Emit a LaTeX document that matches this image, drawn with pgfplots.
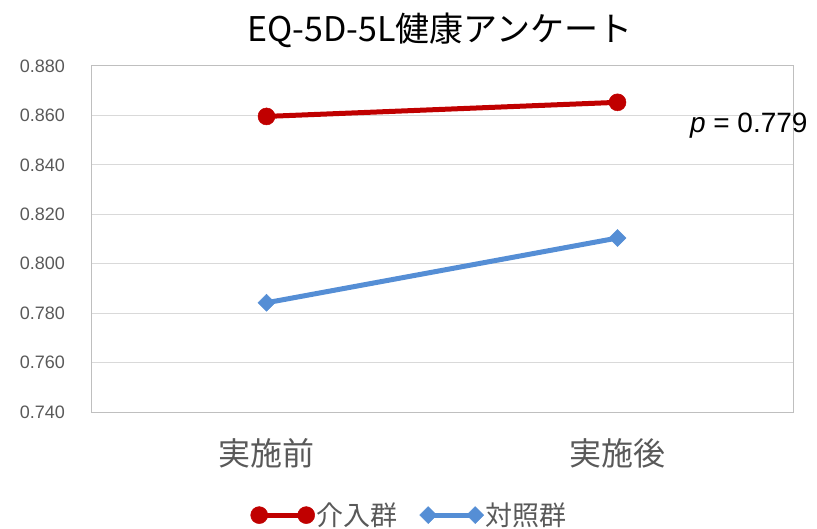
\documentclass[border=0pt]{standalone}
\usepackage{fontspec}
\setmainfont{Liberation Sans}
\newfontfamily\cjk{Noto Sans CJK JP}
\usepackage{pgfplots}
\pgfplotsset{compat=1.18}
\definecolor{redline}{RGB}{192,0,0}
\definecolor{blueline}{RGB}{85,142,213}
\definecolor{txtgray}{RGB}{89,89,89}
\definecolor{gridgray}{RGB}{217,217,217}
\definecolor{framegray}{RGB}{191,191,191}
\begin{document}
\begin{tikzpicture}[x=1pt,y=1pt]
\useasboundingbox (0,0) rectangle (817,528);
\node[font=\cjk\fontsize{34}{34}\selectfont, anchor=base, inner sep=0pt] at (440,486) {EQ-5D-5L健康アンケート};
\begin{axis}[
  at={(91pt,116pt)}, anchor=south west,
  scale only axis, width=702pt, height=346pt,
  xmin=-0.5, xmax=1.5, ymin=0.74, ymax=0.88,
  xtick={0,1}, xticklabels={実施前,実施後},
  ytick={0.74,0.76,0.78,0.80,0.82,0.84,0.86,0.88},
  ymajorgrids, grid style={gridgray, line width=1pt},
  axis line style={framegray, line width=1pt},
  major tick length=0pt,
  yticklabel style={font=\fontsize{18}{18}\selectfont, text=txtgray, inner sep=0pt, xshift=-26pt,
    /pgf/number format/.cd, fixed, fixed zerofill, precision=3, assume math mode=true},
  xticklabel style={font=\cjk\fontsize{32}{32}\selectfont, text=txtgray, inner sep=0pt, yshift=-26pt},
  legend style={at={(0.454,-0.298)}, anchor=center, draw=none, fill=none,
    font=\cjk\fontsize{27}{27}\selectfont, text=txtgray, legend columns=2,
    /tikz/every even column/.append style={column sep=20pt},
    legend cell align=left, inner sep=0pt},
  legend image code/.code={\draw[#1] plot coordinates {(0pt,0pt) (47pt,0pt)};},
  clip=false,
]
\addplot[redline, line width=5pt, mark=*, mark size=8.5pt, mark options={solid, line width=0.5pt}]
  coordinates {(0,0.8596) (1,0.8653)};
\addlegendentry{介入群}
\addplot[blueline, line width=5pt, mark=square*, mark size=6pt, mark options={solid, rotate=45, line width=0.5pt}]
  coordinates {(0,0.7842) (1,0.8104)};
\addlegendentry{対照群}
\node[font=\fontsize{28}{28}\selectfont, inner sep=0pt] at (rel axis cs:0.937,0.829) {\textit{p} = 0.779};
\end{axis}
\end{tikzpicture}
\end{document}
